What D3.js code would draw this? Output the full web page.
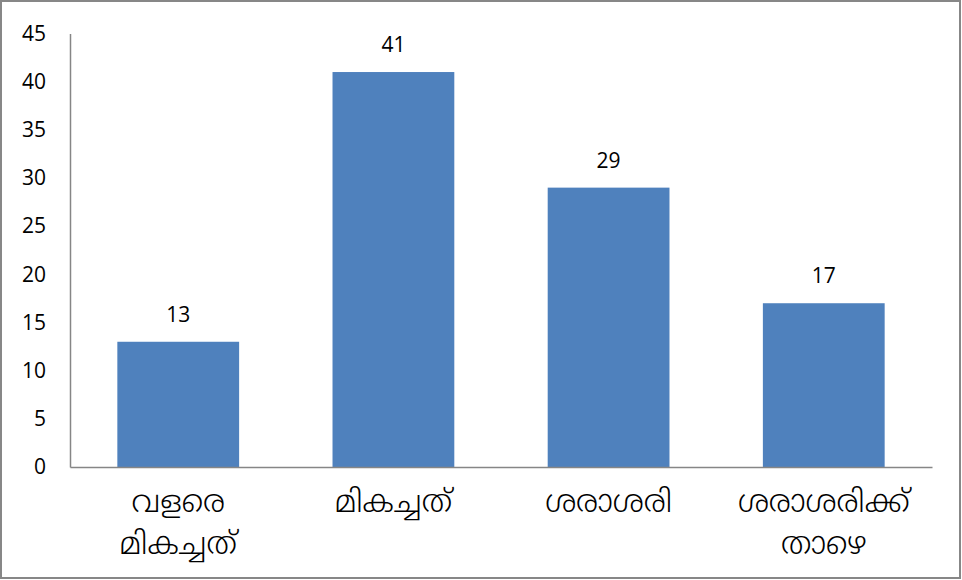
<!DOCTYPE html>
<html><head><meta charset="utf-8">
<script src="https://cdn.jsdelivr.net/npm/d3@7"></script>
<style>body{margin:0;background:#fff}svg{display:block}</style>
</head><body>
<svg id="c" width="962" height="580"></svg>
<script>
const categories = [["വളരെ","മികച്ചത്"],["മികച്ചത്"],["ശരാശരി"],["ശരാശരിക്ക്","താഴെ"]];
const values = [13, 41, 29, 17];
const yTicks = [0,5,10,15,20,25,30,35,40,45];

const svg = d3.select("#c");
const W = 962, H = 580;
const m = {left:70, right:30, top:33.5, bottom:113};
const font = "'Open Sans','Liberation Sans','Noto Sans',sans-serif";
const mlFont = "'Noto Sans Malayalam','Noto Sans','DejaVu Sans',sans-serif";

svg.append("rect").attr("x",1).attr("y",1).attr("width",W-3).attr("height",H-3)
  .attr("fill","#fff").attr("stroke","#878787").attr("stroke-width",2);

const x = d3.scaleBand().domain(d3.range(values.length)).range([m.left, W-m.right]).paddingInner(0.434).paddingOuter(0.22);
const y = d3.scaleLinear().domain([0,45]).range([H-m.bottom, m.top]);

svg.selectAll("rect.bar").data(values).enter().append("rect").attr("class","bar")
  .attr("x",(d,i)=>x(i)).attr("width",x.bandwidth())
  .attr("y",d=>y(d)).attr("height",d=>y(0)-y(d)).attr("fill","#4F81BD");

const ya = d3.axisLeft(y).tickValues(yTicks).tickSize(0).tickPadding(24);
const gy = svg.append("g").attr("transform",`translate(${m.left},0)`).call(ya);
gy.select(".domain").attr("stroke","#868686").attr("stroke-width",1.5);
gy.selectAll("text").attr("font-family",font).attr("font-size",21).attr("fill","#000");

const gx = svg.append("g").attr("transform",`translate(0,${y(0)})`)
  .call(d3.axisBottom(x).tickSize(0).tickFormat(""));
gx.select(".domain").attr("stroke","#868686").attr("stroke-width",1.5);

categories.forEach((lines,i)=>{
  const t = svg.append("text").attr("text-anchor","middle")
    .attr("font-family",mlFont).attr("font-size",31).attr("font-weight",300).attr("fill","#000");
  lines.forEach((l,j)=>{
    t.append("tspan").attr("x",x(i)+x.bandwidth()/2).attr("y",y(0)+45+j*42).text(l);
  });
});

svg.selectAll("text.val").data(values).enter().append("text").attr("class","val")
  .attr("x",(d,i)=>x(i)+x.bandwidth()/2).attr("y",d=>y(d)-20)
  .attr("text-anchor","middle").attr("font-family",font).attr("font-size",21).attr("fill","#000")
  .text(d=>d);
</script>
</body></html>
